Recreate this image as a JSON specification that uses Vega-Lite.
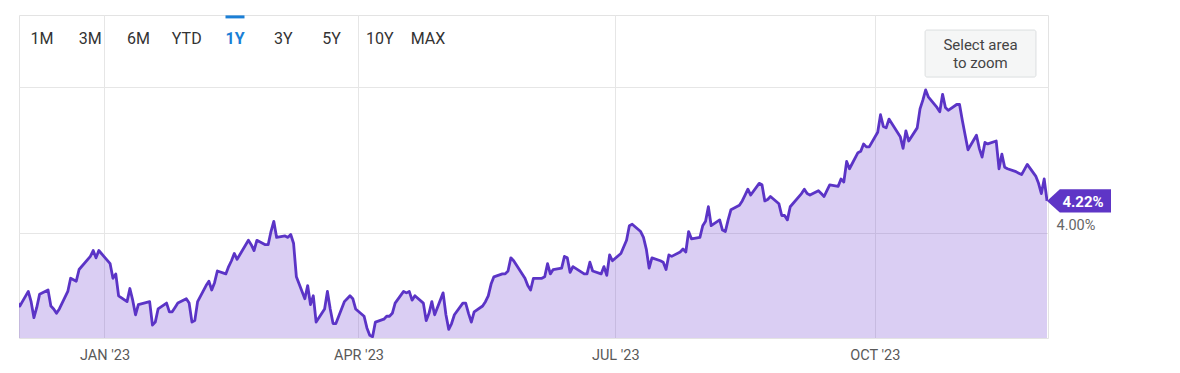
{
  "$schema": "https://vega.github.io/schema/vega-lite/v6.json",
  "width": 1029,
  "height": 323,
  "padding": {"left": 19, "top": 15, "right": 0, "bottom": 0},
  "autosize": {"type": "pad"},
  "background": "white",
  "config": {
    "font": "Roboto",
    "view": {"stroke": "#e3e3e3", "strokeWidth": 1},
    "axis": {"gridColor": "#e6e6e6", "gridWidth": 1}
  },
  "datasets": {
    "yields": [
      {"date": "2022-12-01", "yield": 3.53}, {"date": "2022-12-02", "yield": 3.50}, {"date": "2022-12-05", "yield": 3.60},
      {"date": "2022-12-06", "yield": 3.53}, {"date": "2022-12-07", "yield": 3.42}, {"date": "2022-12-08", "yield": 3.49},
      {"date": "2022-12-09", "yield": 3.58}, {"date": "2022-12-12", "yield": 3.61}, {"date": "2022-12-13", "yield": 3.50},
      {"date": "2022-12-14", "yield": 3.48}, {"date": "2022-12-15", "yield": 3.45}, {"date": "2022-12-16", "yield": 3.48},
      {"date": "2022-12-19", "yield": 3.60}, {"date": "2022-12-20", "yield": 3.69}, {"date": "2022-12-21", "yield": 3.68},
      {"date": "2022-12-22", "yield": 3.67}, {"date": "2022-12-23", "yield": 3.75}, {"date": "2022-12-27", "yield": 3.84},
      {"date": "2022-12-28", "yield": 3.88}, {"date": "2022-12-29", "yield": 3.83}, {"date": "2022-12-30", "yield": 3.88},
      {"date": "2023-01-03", "yield": 3.79}, {"date": "2023-01-04", "yield": 3.69}, {"date": "2023-01-05", "yield": 3.72},
      {"date": "2023-01-06", "yield": 3.57}, {"date": "2023-01-09", "yield": 3.53}, {"date": "2023-01-10", "yield": 3.62},
      {"date": "2023-01-11", "yield": 3.54}, {"date": "2023-01-12", "yield": 3.44}, {"date": "2023-01-13", "yield": 3.51},
      {"date": "2023-01-17", "yield": 3.53}, {"date": "2023-01-18", "yield": 3.37}, {"date": "2023-01-19", "yield": 3.39},
      {"date": "2023-01-20", "yield": 3.48}, {"date": "2023-01-23", "yield": 3.52}, {"date": "2023-01-24", "yield": 3.46},
      {"date": "2023-01-25", "yield": 3.46}, {"date": "2023-01-26", "yield": 3.49}, {"date": "2023-01-27", "yield": 3.52},
      {"date": "2023-01-30", "yield": 3.55}, {"date": "2023-01-31", "yield": 3.52}, {"date": "2023-02-01", "yield": 3.39},
      {"date": "2023-02-02", "yield": 3.40}, {"date": "2023-02-03", "yield": 3.53}, {"date": "2023-02-06", "yield": 3.64},
      {"date": "2023-02-07", "yield": 3.67}, {"date": "2023-02-08", "yield": 3.61}, {"date": "2023-02-09", "yield": 3.66},
      {"date": "2023-02-10", "yield": 3.74}, {"date": "2023-02-13", "yield": 3.72}, {"date": "2023-02-14", "yield": 3.77},
      {"date": "2023-02-15", "yield": 3.81}, {"date": "2023-02-16", "yield": 3.86}, {"date": "2023-02-17", "yield": 3.82},
      {"date": "2023-02-21", "yield": 3.95}, {"date": "2023-02-22", "yield": 3.92}, {"date": "2023-02-23", "yield": 3.88},
      {"date": "2023-02-24", "yield": 3.95}, {"date": "2023-02-27", "yield": 3.92}, {"date": "2023-02-28", "yield": 3.92},
      {"date": "2023-03-01", "yield": 4.01}, {"date": "2023-03-02", "yield": 4.08}, {"date": "2023-03-03", "yield": 3.97},
      {"date": "2023-03-06", "yield": 3.98}, {"date": "2023-03-07", "yield": 3.97}, {"date": "2023-03-08", "yield": 3.99},
      {"date": "2023-03-09", "yield": 3.93}, {"date": "2023-03-10", "yield": 3.70}, {"date": "2023-03-13", "yield": 3.55},
      {"date": "2023-03-14", "yield": 3.64}, {"date": "2023-03-15", "yield": 3.51}, {"date": "2023-03-16", "yield": 3.57},
      {"date": "2023-03-17", "yield": 3.39}, {"date": "2023-03-20", "yield": 3.48}, {"date": "2023-03-21", "yield": 3.60},
      {"date": "2023-03-22", "yield": 3.48}, {"date": "2023-03-23", "yield": 3.38}, {"date": "2023-03-24", "yield": 3.38},
      {"date": "2023-03-27", "yield": 3.53}, {"date": "2023-03-28", "yield": 3.55}, {"date": "2023-03-29", "yield": 3.57},
      {"date": "2023-03-30", "yield": 3.55}, {"date": "2023-03-31", "yield": 3.48}, {"date": "2023-04-03", "yield": 3.43},
      {"date": "2023-04-04", "yield": 3.35}, {"date": "2023-04-05", "yield": 3.30}, {"date": "2023-04-06", "yield": 3.29},
      {"date": "2023-04-07", "yield": 3.39}, {"date": "2023-04-10", "yield": 3.41}, {"date": "2023-04-11", "yield": 3.43},
      {"date": "2023-04-12", "yield": 3.43}, {"date": "2023-04-13", "yield": 3.45}, {"date": "2023-04-14", "yield": 3.52},
      {"date": "2023-04-17", "yield": 3.60}, {"date": "2023-04-18", "yield": 3.59}, {"date": "2023-04-19", "yield": 3.60},
      {"date": "2023-04-20", "yield": 3.54}, {"date": "2023-04-21", "yield": 3.57}, {"date": "2023-04-24", "yield": 3.52},
      {"date": "2023-04-25", "yield": 3.40}, {"date": "2023-04-26", "yield": 3.45}, {"date": "2023-04-27", "yield": 3.53},
      {"date": "2023-04-28", "yield": 3.44}, {"date": "2023-05-01", "yield": 3.59}, {"date": "2023-05-02", "yield": 3.44},
      {"date": "2023-05-03", "yield": 3.34}, {"date": "2023-05-04", "yield": 3.38}, {"date": "2023-05-05", "yield": 3.44},
      {"date": "2023-05-08", "yield": 3.52}, {"date": "2023-05-09", "yield": 3.52}, {"date": "2023-05-10", "yield": 3.45},
      {"date": "2023-05-11", "yield": 3.39}, {"date": "2023-05-12", "yield": 3.46}, {"date": "2023-05-15", "yield": 3.50},
      {"date": "2023-05-16", "yield": 3.53}, {"date": "2023-05-17", "yield": 3.57}, {"date": "2023-05-18", "yield": 3.65},
      {"date": "2023-05-19", "yield": 3.70}, {"date": "2023-05-22", "yield": 3.72}, {"date": "2023-05-23", "yield": 3.72},
      {"date": "2023-05-24", "yield": 3.74}, {"date": "2023-05-25", "yield": 3.83}, {"date": "2023-05-26", "yield": 3.81},
      {"date": "2023-05-30", "yield": 3.69}, {"date": "2023-05-31", "yield": 3.64}, {"date": "2023-06-01", "yield": 3.61},
      {"date": "2023-06-02", "yield": 3.69}, {"date": "2023-06-05", "yield": 3.69}, {"date": "2023-06-06", "yield": 3.70},
      {"date": "2023-06-07", "yield": 3.79}, {"date": "2023-06-08", "yield": 3.72}, {"date": "2023-06-09", "yield": 3.75},
      {"date": "2023-06-12", "yield": 3.76}, {"date": "2023-06-13", "yield": 3.84}, {"date": "2023-06-14", "yield": 3.83},
      {"date": "2023-06-15", "yield": 3.73}, {"date": "2023-06-16", "yield": 3.77}, {"date": "2023-06-20", "yield": 3.72},
      {"date": "2023-06-21", "yield": 3.72}, {"date": "2023-06-22", "yield": 3.80}, {"date": "2023-06-23", "yield": 3.74},
      {"date": "2023-06-26", "yield": 3.72}, {"date": "2023-06-27", "yield": 3.77}, {"date": "2023-06-28", "yield": 3.71},
      {"date": "2023-06-29", "yield": 3.85}, {"date": "2023-06-30", "yield": 3.81}, {"date": "2023-07-03", "yield": 3.86},
      {"date": "2023-07-05", "yield": 3.95}, {"date": "2023-07-06", "yield": 4.05}, {"date": "2023-07-07", "yield": 4.06},
      {"date": "2023-07-10", "yield": 4.01}, {"date": "2023-07-11", "yield": 3.97}, {"date": "2023-07-12", "yield": 3.89},
      {"date": "2023-07-13", "yield": 3.76}, {"date": "2023-07-14", "yield": 3.83}, {"date": "2023-07-17", "yield": 3.81},
      {"date": "2023-07-18", "yield": 3.80}, {"date": "2023-07-19", "yield": 3.75}, {"date": "2023-07-20", "yield": 3.85},
      {"date": "2023-07-21", "yield": 3.84}, {"date": "2023-07-24", "yield": 3.87}, {"date": "2023-07-25", "yield": 3.89},
      {"date": "2023-07-26", "yield": 3.87}, {"date": "2023-07-27", "yield": 4.01}, {"date": "2023-07-28", "yield": 3.96},
      {"date": "2023-07-31", "yield": 3.97}, {"date": "2023-08-01", "yield": 4.05}, {"date": "2023-08-02", "yield": 4.08},
      {"date": "2023-08-03", "yield": 4.18}, {"date": "2023-08-04", "yield": 4.05}, {"date": "2023-08-07", "yield": 4.09},
      {"date": "2023-08-08", "yield": 4.02}, {"date": "2023-08-09", "yield": 4.01}, {"date": "2023-08-10", "yield": 4.09},
      {"date": "2023-08-11", "yield": 4.16}, {"date": "2023-08-14", "yield": 4.19}, {"date": "2023-08-15", "yield": 4.22},
      {"date": "2023-08-16", "yield": 4.26}, {"date": "2023-08-17", "yield": 4.30}, {"date": "2023-08-18", "yield": 4.26},
      {"date": "2023-08-21", "yield": 4.34}, {"date": "2023-08-22", "yield": 4.33}, {"date": "2023-08-23", "yield": 4.22},
      {"date": "2023-08-24", "yield": 4.23}, {"date": "2023-08-25", "yield": 4.25}, {"date": "2023-08-28", "yield": 4.20},
      {"date": "2023-08-29", "yield": 4.12}, {"date": "2023-08-30", "yield": 4.12}, {"date": "2023-08-31", "yield": 4.09},
      {"date": "2023-09-01", "yield": 4.18}, {"date": "2023-09-05", "yield": 4.27}, {"date": "2023-09-06", "yield": 4.30},
      {"date": "2023-09-07", "yield": 4.27}, {"date": "2023-09-08", "yield": 4.26}, {"date": "2023-09-11", "yield": 4.29},
      {"date": "2023-09-12", "yield": 4.27}, {"date": "2023-09-13", "yield": 4.25}, {"date": "2023-09-14", "yield": 4.29},
      {"date": "2023-09-15", "yield": 4.33}, {"date": "2023-09-18", "yield": 4.32}, {"date": "2023-09-19", "yield": 4.37},
      {"date": "2023-09-20", "yield": 4.35}, {"date": "2023-09-21", "yield": 4.49}, {"date": "2023-09-22", "yield": 4.44},
      {"date": "2023-09-25", "yield": 4.55}, {"date": "2023-09-26", "yield": 4.56}, {"date": "2023-09-27", "yield": 4.61},
      {"date": "2023-09-28", "yield": 4.59}, {"date": "2023-09-29", "yield": 4.59}, {"date": "2023-10-02", "yield": 4.69},
      {"date": "2023-10-03", "yield": 4.81}, {"date": "2023-10-04", "yield": 4.73}, {"date": "2023-10-05", "yield": 4.72},
      {"date": "2023-10-06", "yield": 4.78}, {"date": "2023-10-10", "yield": 4.66}, {"date": "2023-10-11", "yield": 4.58},
      {"date": "2023-10-12", "yield": 4.70}, {"date": "2023-10-13", "yield": 4.63}, {"date": "2023-10-16", "yield": 4.72},
      {"date": "2023-10-17", "yield": 4.85}, {"date": "2023-10-18", "yield": 4.91}, {"date": "2023-10-19", "yield": 4.98},
      {"date": "2023-10-20", "yield": 4.93}, {"date": "2023-10-23", "yield": 4.86}, {"date": "2023-10-24", "yield": 4.83},
      {"date": "2023-10-25", "yield": 4.95}, {"date": "2023-10-26", "yield": 4.86}, {"date": "2023-10-27", "yield": 4.84},
      {"date": "2023-10-30", "yield": 4.88}, {"date": "2023-10-31", "yield": 4.88}, {"date": "2023-11-01", "yield": 4.77},
      {"date": "2023-11-02", "yield": 4.67}, {"date": "2023-11-03", "yield": 4.57}, {"date": "2023-11-06", "yield": 4.67},
      {"date": "2023-11-07", "yield": 4.58}, {"date": "2023-11-08", "yield": 4.52}, {"date": "2023-11-09", "yield": 4.62},
      {"date": "2023-11-10", "yield": 4.61}, {"date": "2023-11-13", "yield": 4.63}, {"date": "2023-11-14", "yield": 4.44},
      {"date": "2023-11-15", "yield": 4.54}, {"date": "2023-11-16", "yield": 4.45}, {"date": "2023-11-17", "yield": 4.44},
      {"date": "2023-11-20", "yield": 4.42}, {"date": "2023-11-21", "yield": 4.41}, {"date": "2023-11-22", "yield": 4.40},
      {"date": "2023-11-24", "yield": 4.47}, {"date": "2023-11-27", "yield": 4.39}, {"date": "2023-11-28", "yield": 4.34},
      {"date": "2023-11-29", "yield": 4.27}, {"date": "2023-11-30", "yield": 4.37}, {"date": "2023-12-01", "yield": 4.22}
    ],
    "latest": [{"date": "2023-12-01", "yield": 4.22, "label": "4.22%"}],
    "zoombox": [{"label": "Select area\nto zoom"}],
    "buttons": [
      {"b": "1M"}, {"b": "3M"}, {"b": "6M"}, {"b": "YTD"}, {"b": "1Y"},
      {"b": "3Y"}, {"b": "5Y"}, {"b": "10Y"}, {"b": "MAX"}
    ]
  },
  "layer": [
    {
      "layer": [
        {
          "data": {"name": "yields"},
          "mark": {"type": "area", "clip": true, "fill": "#6a3bd0", "fillOpacity": 0.25, "interpolate": "linear"},
          "encoding": {
            "x": {
              "field": "date", "type": "temporal",
              "scale": {"type": "utc", "domain": [
                {"year": 2022, "month": 12, "date": 1, "hours": 17, "utc": true},
                {"year": 2023, "month": 12, "date": 1, "hours": 8, "minutes": 24, "utc": true}
              ]},
              "axis": {
                "title": null,
                "values": [
                  {"year": 2023, "month": 1, "date": 1, "utc": true},
                  {"year": 2023, "month": 4, "date": 1, "utc": true},
                  {"year": 2023, "month": 7, "date": 1, "utc": true},
                  {"year": 2023, "month": 10, "date": 1, "utc": true}
                ],
                "labelExpr": "upper(utcFormat(datum.value, \"%b '%y\"))",
                "grid": true, "domain": false, "ticks": false, "tickSize": 0,
                "labelPadding": 10, "labelFontSize": 14.5, "labelColor": "#595959", "labelFlush": false
              }
            },
            "y": {
              "field": "yield", "type": "quantitative",
              "scale": {"domain": [3.281, 5.493], "zero": false, "nice": false},
              "axis": {
                "title": null, "orient": "right", "values": [4, 5],
                "labelExpr": "datum.value == 4 ? '4.00%' : ''",
                "grid": true, "domain": false, "ticks": false,
                "labelPadding": 8, "labelFontSize": 14.5, "labelColor": "#666666",
                "labelBaseline": "alphabetic", "labelOffset": -4
              }
            }
          }
        },
        {
          "data": {"name": "yields"},
          "mark": {"type": "line", "clip": true, "color": "#5b34c6", "strokeWidth": 2.8, "strokeJoin": "round"},
          "encoding": {
            "x": {"field": "date", "type": "temporal", "title": null},
            "y": {"field": "yield", "type": "quantitative", "title": null}
          }
        },
        {
          "data": {"name": "zoombox"},
          "mark": {"type": "rect", "fill": "#f5f6f6", "stroke": "#dcdfe0", "strokeWidth": 1, "cornerRadius": 2},
          "encoding": {
            "x": {"datum": {"year": 2023, "month": 10, "date": 18, "hours": 19, "utc": true}, "type": "temporal", "title": null},
            "x2": {"datum": {"year": 2023, "month": 11, "date": 27, "hours": 2, "utc": true}},
            "y": {"datum": 5.39, "type": "quantitative", "title": null},
            "y2": {"datum": 5.068}
          }
        },
        {
          "data": {"name": "zoombox"},
          "mark": {"type": "text", "lineBreak": "\n", "fontSize": 15, "lineHeight": 18, "color": "#444444", "align": "center", "baseline": "middle"},
          "encoding": {
            "x": {"datum": {"year": 2023, "month": 11, "date": 7, "hours": 10, "utc": true}, "type": "temporal", "title": null},
            "y": {"datum": 5.288, "type": "quantitative", "title": null},
            "text": {"field": "label", "type": "nominal"}
          }
        },
        {
          "data": {"name": "latest"},
          "mark": {"type": "point", "shape": "M0,0L0.2,-0.18L1,-0.18L1,0.18L0.2,0.18Z", "size": 16384, "filled": true, "opacity": 1, "color": "#5e35c6", "strokeWidth": 0},
          "encoding": {
            "x": {"field": "date", "type": "temporal", "title": null},
            "y": {"field": "yield", "type": "quantitative", "title": null}
          }
        },
        {
          "data": {"name": "latest"},
          "mark": {"type": "text", "dx": 36, "dy": 1, "align": "center", "baseline": "middle", "fontSize": 15, "fontWeight": "bold", "color": "#ffffff"},
          "encoding": {
            "x": {"field": "date", "type": "temporal", "title": null},
            "y": {"field": "yield", "type": "quantitative", "title": null},
            "text": {"field": "label", "type": "nominal"}
          }
        }
      ]
    },
    {
      "data": {"name": "buttons"},
      "layer": [
        {
          "transform": [{"filter": "datum.b !== '1Y'"}],
          "mark": {"type": "text", "fontSize": 16, "color": "#333333", "align": "center", "baseline": "middle"},
          "encoding": {
            "x": {"field": "b", "type": "nominal", "sort": null, "axis": null, "title": null,
                  "scale": {"type": "point", "domain": ["1M", "3M", "6M", "YTD", "1Y", "3Y", "5Y", "10Y", "MAX"], "range": [23, 409], "padding": 0}},
            "y": {"datum": 5.329, "type": "quantitative", "title": null},
            "text": {"field": "b", "type": "nominal"}
          }
        },
        {
          "transform": [{"filter": "datum.b === '1Y'"}],
          "mark": {"type": "text", "fontSize": 16, "fontWeight": "bold", "color": "#1b7fd6", "align": "center", "baseline": "middle"},
          "encoding": {
            "x": {"field": "b", "type": "nominal", "sort": null, "axis": null, "title": null},
            "y": {"datum": 5.329, "type": "quantitative", "title": null},
            "text": {"field": "b", "type": "nominal"}
          }
        },
        {
          "transform": [{"filter": "datum.b === '1Y'"}],
          "mark": {"type": "tick", "color": "#1b7fd6", "size": 19, "thickness": 3, "opacity": 1},
          "encoding": {
            "x": {"field": "b", "type": "nominal", "sort": null, "axis": null, "title": null},
            "y": {"datum": 5.48, "type": "quantitative", "title": null}
          }
        }
      ]
    }
  ],
  "resolve": {"scale": {"x": "independent"}}
}
